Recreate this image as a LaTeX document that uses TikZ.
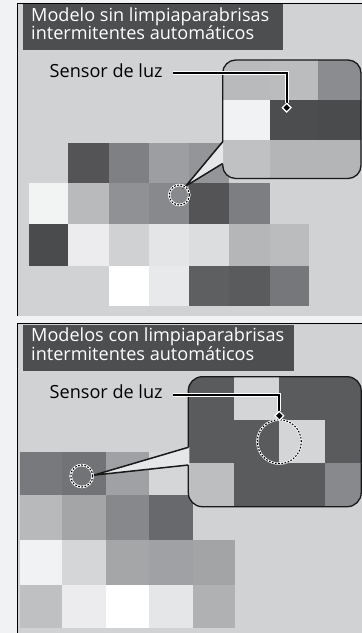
\documentclass[tikz,border=0pt]{standalone}
\usepackage{fontspec}
\setmainfont{Open Sans}
\usetikzlibrary{shapes.geometric}
\definecolor{outside}{HTML}{F1F2F4}
\definecolor{panelbg}{HTML}{D1D2D4}
\definecolor{labelbg}{HTML}{4D4E50}
\definecolor{wedgebg}{HTML}{E6E7E9}
\newcommand\mcell[5]{\definecolor{tmpcell}{HTML}{#5}\fill[tmpcell] (#1,#2) rectangle (#3,#4);}
\tikzset{
  border/.style={draw=black, line width=1.3pt},
  labelbox/.style={fill=labelbg, inner sep=0pt, anchor=north west},
  labeltext/.style={text=white, inner sep=0pt, anchor=base west, font=\fontsize{18.1}{19}\selectfont},
  sensortext/.style={text=black, inner sep=0pt, anchor=base west, font=\fontsize{18.1}{19}\selectfont},
  boxline/.style={draw=black!90, line width=1.3pt},
  wedgeline/.style={draw=black!90, line width=1.5pt, line join=miter},
  spot/.style={circle, inner sep=0pt, draw=white, line width=2.2pt,
     postaction={draw=black, line width=1.1pt, dash pattern=on 1.7pt off 1.5pt}},
  leader/.style={draw=white, double=black, double distance=2.2pt, line width=1pt},
  tipmark/.style={diamond, inner sep=0pt, minimum size=9pt, fill=black, draw=white, line width=1.1pt},
}
\begin{document}
\begin{tikzpicture}[x=1pt,y=-1pt]
\useasboundingbox (0,0) rectangle (362,633);
\fill[outside] (0,0) rectangle (362,633);
% ---------- panel 1 ----------
\fill[panelbg] (17.3,3.5) rectangle (362,315.7);
% outer mosaic
\mcell{68}{143}{108.7}{182.7}{545456}
\mcell{108.7}{143}{149}{182.7}{7F8083}
\mcell{149}{143}{189}{182.7}{9D9EA1}
\mcell{189}{143}{229}{182.7}{949598}
\mcell{29.3}{182.7}{68}{224}{F2F3F3}
\mcell{68}{182.7}{108.7}{224}{B9BABC}
\mcell{108.7}{182.7}{149}{224}{909194}
\mcell{149}{182.7}{189}{224}{88898C}
\mcell{189}{182.7}{229}{224}{545456}
\mcell{229}{182.7}{270}{224}{7D7E81}
\mcell{29.3}{224}{68}{266}{4A4B4D}
\mcell{68}{224}{108.7}{266}{ECECEE}
\mcell{108.7}{224}{149}{266}{D0D1D3}
\mcell{149}{224}{189}{266}{E4E5E7}
\mcell{189}{224}{229}{266}{DCDDDF}
\mcell{229}{224}{270}{266}{B5B6B8}
\mcell{270}{224}{309}{266}{BBBCBE}
\mcell{108.7}{266}{149}{305.7}{FFFFFF}
\mcell{149}{266}{189}{305.7}{E8E9EB}
\mcell{189}{266}{229}{305.7}{5E5F61}
\mcell{229}{266}{270}{305.7}{5A5B5D}
\mcell{270}{266}{309}{305.7}{76777A}
% magnified box
\begin{scope}
\clip[rounded corners=13pt] (222.7,60) rectangle (361,178.5);
\mcell{222}{59}{270}{99.5}{B9BABC}
\mcell{270}{59}{318}{99.5}{BBBCBE}
\mcell{318}{59}{362}{99.5}{8B8C8F}
\mcell{222}{99.5}{270}{140}{F1F2F3}
\mcell{270}{99.5}{318}{140}{4C4D4F}
\mcell{318}{99.5}{362}{140}{4A4B4D}
\mcell{222}{140}{270}{179}{C0C1C3}
\mcell{270}{140}{318}{179}{B4B5B7}
\mcell{318}{140}{362}{179}{B4B5B7}
\end{scope}
\draw[boxline, rounded corners=13pt] (222.7,60) rectangle (361,178.5);
% spot and wedge
\node[spot, minimum size=20pt] (c1) at (179.3,195) {};
\coordinate (a1) at (222.7,141.7);
\coordinate (a2) at (222.7,163.5);
\fill[wedgebg] (c1.54) -- ([xshift=1pt]a1) -- ([xshift=1pt]a2) -- cycle;
\draw[wedgeline] (a1) -- (c1.54) -- (a2);
\node[spot, minimum size=20pt] at (c1) {};
% label box
\node[labelbox, minimum width=260pt, minimum height=45.8pt] (lb1) at (22.7,3.5) {};
\node[labeltext] (lt1a) at (31,21) {Modelo sin limpiaparabrisas};
\node[labeltext] (lt1b) at (31,39.3) {intermitentes automáticos};
% sensor label and leader
\node[sensortext] (s1) at (49.5,77.7) {Sensor de luz};
\node[tipmark] (d1) at (286.7,107.7) {};
\coordinate (l1) at ([xshift=10pt,yshift=5pt]s1.base east);
\draw[leader] (l1) -| (d1.north);
\node[tipmark] at (d1) {};
\draw[border] (17.3,315.7) -- (17.3,3.5) -- (362,3.5);
% ---------- panel 2 ----------
\fill[panelbg] (17.3,323.3) rectangle (362,633);
\mcell{20}{451.7}{62}{495}{78797C}
\mcell{62}{451.7}{106}{495}{727376}
\mcell{106}{451.7}{149}{495}{A0A1A4}
\mcell{149}{451.7}{193}{495}{D5D6D8}
\mcell{20}{495}{62}{540}{B8B9BB}
\mcell{62}{495}{106}{540}{A4A5A7}
\mcell{106}{495}{149}{540}{87888B}
\mcell{149}{495}{193}{540}{68696C}
\mcell{20}{540}{62}{585}{F1F2F3}
\mcell{62}{540}{106}{585}{D5D6D8}
\mcell{106}{540}{149}{585}{A5A6A8}
\mcell{149}{540}{193}{585}{A0A1A4}
\mcell{193}{540}{235}{585}{A3A4A6}
\mcell{20}{585}{62}{627.7}{BFC0C2}
\mcell{62}{585}{106}{627.7}{ECECEE}
\mcell{106}{585}{149}{627.7}{FFFFFF}
\mcell{149}{585}{193}{627.7}{E5E6E8}
\mcell{193}{585}{235}{627.7}{B0B1B3}
\begin{scope}
\clip[rounded corners=14pt] (188.3,376.7) rectangle (361.2,506.7);
\mcell{188}{376}{234}{420}{5A5B5D}
\mcell{234}{376}{279.3}{420}{D4D5D7}
\mcell{279.3}{376}{325}{420}{5A5B5D}
\mcell{325}{376}{362}{420}{5A5B5D}
\mcell{188}{420}{234}{462.7}{5A5B5D}
\mcell{234}{420}{279.3}{462.7}{5A5B5D}
\mcell{279.3}{420}{325}{462.7}{D4D5D7}
\mcell{325}{420}{362}{462.7}{5A5B5D}
\mcell{188}{462.7}{234}{507}{BDBEC0}
\mcell{234}{462.7}{279.3}{507}{5A5B5D}
\mcell{279.3}{462.7}{325}{507}{5A5B5D}
\mcell{325}{462.7}{362}{507}{88898C}
\end{scope}
\draw[boxline, rounded corners=14pt] (188.3,376.7) rectangle (361.2,506.7);
\node[spot, minimum size=22pt] (c2) at (81.7,476) {};
\coordinate (a3) at (188.3,447.3);
\coordinate (a4) at (188.3,465);
\fill[wedgebg] (c2.4) -- ([xshift=1pt]a3) -- ([xshift=1pt]a4) -- cycle;
\draw[wedgeline] (a3) -- (c2.4) -- (a4);
\node[spot, minimum size=22pt] at (c2) {};
\node[spot, minimum size=44pt] (c3) at (279.3,441.7) {};
\node[labelbox, minimum width=270.6pt, minimum height=46.4pt] (lb2) at (22.7,324.3) {};
\node[labeltext] (lt2a) at (31,341.8) {Modelos con limpiaparabrisas};
\node[labeltext] (lt2b) at (31,360.1) {intermitentes automáticos};
\node[sensortext] (s2) at (49.5,398.6) {Sensor de luz};
\node[tipmark] (d2) at (279.3,415.7) {};
\coordinate (l2) at ([xshift=10pt,yshift=4pt]s2.base east);
\draw[leader] (l2) -| (d2.north);
\node[tipmark] at (d2) {};
\draw[border] (17.3,633) -- (17.3,323.3) -- (362,323.3);
\end{tikzpicture}
\end{document}
